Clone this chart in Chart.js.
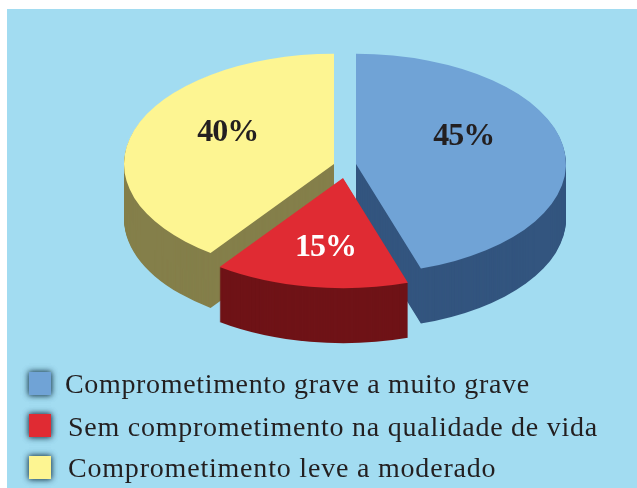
<!DOCTYPE html>
<html>
<head>
<meta charset="utf-8">
<script src="https://cdn.jsdelivr.net/npm/chart.js@4"></script>
<style>
  html, body { margin: 0; padding: 0; background: #fff; }
  canvas { display: block; }
</style>
</head>
<body>
<canvas id="pieChart" width="637" height="488"></canvas>
<script>
const categories = ["Comprometimento grave a muito grave", "Sem comprometimento na qualidade de vida", "Comprometimento leve a moderado"];
const values = [45, 15, 40];
const valueLabels = ["45%", "15%", "40%"];

const topColors = ["#70a3d6", "#e02b33", "#fdf592"];
const sideColors = ["#33557f", "#6f1317", "#847f4a"];
const labelColors = ["#231f20", "#ffffff", "#231f20"];

// how far each slice is pulled out of the center, before the tilt
const explode = [[11, -4], [-2, 23], [-11, -4]];
// nudges for the percent text from the middle of each slice
const labelNudge = [[4, -19], [-1, 15], [-6.5, -14]];

const tilt = 0.524;
const depth = 55;
const pieRadius = 210;
// back slices first so the red one ends up in front
const drawOrder = [0, 2, 1];

const legendRows = [
    { boxY: 372, textX: 65, baseline: 393, spacing: 0.66 },
    { boxY: 414, textX: 68, baseline: 436, spacing: 0.75 },
    { boxY: 456, textX: 68, baseline: 477, spacing: 0.8 }
];

function slicePath(ctx, el) {
    ctx.beginPath();
    ctx.moveTo(el.x, el.y);
    ctx.arc(el.x, el.y, el.outerRadius, el.startAngle, el.endAngle);
    ctx.closePath();
}

const pie3d = {
    id: "pie3d",
    beforeDraw(chart) {
        const ctx = chart.ctx;
        ctx.save();
        ctx.fillStyle = "#a2dcf1";
        ctx.fillRect(7, 9, 630, 479);
        ctx.restore();
    },
    // the library would draw a flat pie here, so draw the tilted one instead
    beforeDatasetDraw(chart) {
        const ctx = chart.ctx;
        const arcs = chart.getDatasetMeta(0).data;
        drawOrder.forEach((i) => {
            const el = arcs[i];
            ctx.save();
            ctx.translate(el.x, el.y);
            ctx.scale(1, tilt);
            ctx.translate(-el.x + explode[i][0], -el.y + explode[i][1]);
            ctx.fillStyle = sideColors[i];
            for (let d = depth; d > 0; d--) {
                ctx.save();
                ctx.translate(0, d / tilt);
                slicePath(ctx, el);
                ctx.fill();
                ctx.restore();
            }
            el.draw(ctx);
            ctx.restore();
        });
        return false;
    },
    afterDatasetsDraw(chart) {
        const ctx = chart.ctx;
        const arcs = chart.getDatasetMeta(0).data;
        ctx.save();
        ctx.textAlign = "center";
        ctx.textBaseline = "middle";
        ctx.font = "bold 32px 'Liberation Serif'";
        ctx.letterSpacing = "-1px";
        arcs.forEach((el, i) => {
            const center = el.getCenterPoint();
            const x = center.x + explode[i][0] + labelNudge[i][0];
            const y = el.y + (center.y - el.y + explode[i][1]) * tilt + labelNudge[i][1];
            ctx.fillStyle = labelColors[i];
            ctx.fillText(valueLabels[i], x, y);
        });
        ctx.restore();

        // legend
        ctx.save();
        ctx.textAlign = "left";
        ctx.textBaseline = "alphabetic";
        ctx.font = "28px 'Liberation Serif'";
        categories.forEach((name, i) => {
            const row = legendRows[i];
            ctx.save();
            ctx.shadowColor = "rgba(40, 75, 95, 0.9)";
            ctx.shadowBlur = 6;
            ctx.fillStyle = topColors[i];
            ctx.fillRect(29, row.boxY, 22, 23);
            ctx.fillRect(29, row.boxY, 22, 23);
            ctx.restore();
            ctx.letterSpacing = row.spacing + "px";
            ctx.fillStyle = "#231f20";
            ctx.fillText(name, row.textX, row.baseline);
        });
        ctx.restore();
    }
};

new Chart(document.getElementById("pieChart"), {
    type: "pie",
    data: {
        labels: categories,
        datasets: [{
            data: values,
            backgroundColor: topColors,
            borderWidth: 0,
            clip: false
        }]
    },
    options: {
        responsive: false,
        animation: false,
        radius: pieRadius,
        layout: { padding: { left: 53, bottom: 156 } },
        plugins: {
            legend: { display: false },
            tooltip: { enabled: false }
        }
    },
    plugins: [pie3d]
});
</script>
</body>
</html>
